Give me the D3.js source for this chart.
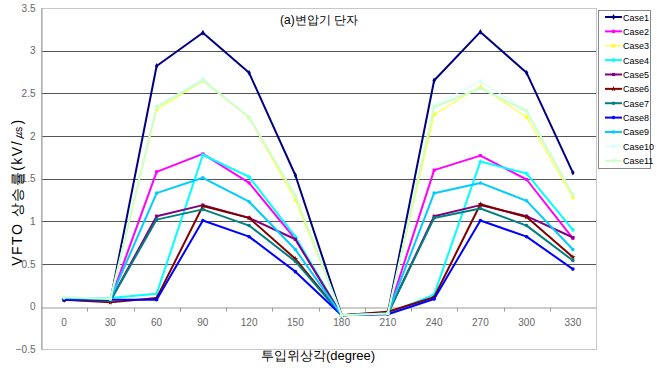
<!DOCTYPE html>
<html>
<head>
<meta charset="utf-8">
<script src="https://cdn.jsdelivr.net/npm/d3@7"></script>
<style>
  html, body { margin: 0; padding: 0; background: #fff; }
  svg { display: block; }
  text { font-family: "Liberation Sans", Arial, sans-serif; }
</style>
</head>
<body>
<svg id="chart" width="657" height="372"></svg>
<script>
// Switching phase angle (degrees) on the category axis
const categories = ["0", "30", "60", "90", "120", "150", "180", "210", "240", "270", "300", "330"];

// VFTO rise rate (kV/µs) per case
const case1  = [0.08, 0.07, 2.82, 3.21, 2.74, 1.54, -0.10, -0.07, 2.65, 3.22, 2.74, 1.57];
const case2  = [0.09, 0.08, 1.58, 1.79, 1.45, 0.79, -0.10, -0.08, 1.60, 1.77, 1.49, 0.80];
const case3  = [0.10, 0.08, 2.31, 2.64, 2.21, 1.25, -0.10, -0.08, 2.25, 2.58, 2.22, 1.28];
const case4  = [0.10, 0.10, 0.15, 1.78, 1.52, 0.82, -0.10, -0.08, 0.14, 1.70, 1.56, 0.90];
const case5  = [0.08, 0.07, 1.06, 1.19, 1.04, 0.79, -0.10, -0.08, 1.06, 1.19, 1.06, 0.81];
const case6  = [0.08, 0.05, 0.10, 1.18, 1.04, 0.56, -0.10, -0.06, 0.11, 1.20, 1.05, 0.58];
const case7  = [0.09, 0.07, 1.02, 1.14, 0.95, 0.53, -0.10, -0.08, 1.04, 1.15, 0.95, 0.54];
const case8  = [0.08, 0.08, 0.08, 1.01, 0.82, 0.41, -0.10, -0.09, 0.09, 1.01, 0.82, 0.44];
const case9  = [0.10, 0.09, 1.33, 1.51, 1.23, 0.67, -0.10, -0.08, 1.33, 1.45, 1.24, 0.67];
const case10 = [0.11, 0.10, 2.35, 2.67, 2.22, 1.30, -0.10, -0.08, 2.36, 2.64, 2.30, 1.32];
const case11 = [0.11, 0.09, 2.34, 2.65, 2.22, 1.30, -0.10, -0.08, 2.34, 2.56, 2.29, 1.31];

const seriesNames = ["Case1", "Case2", "Case3", "Case4", "Case5", "Case6", "Case7", "Case8", "Case9", "Case10", "Case11"];
const seriesValues = [case1, case2, case3, case4, case5, case6, case7, case8, case9, case10, case11];
const seriesColors = ["#000080", "#ff00ff", "#ffff00", "#00ffff", "#800080", "#800000", "#008080", "#0000ff", "#00ccff", "#ccffff", "#ccffcc"];
const seriesWidths = [2, 2, 1, 2, 2, 2, 2, 2, 2, 1, 2];
const seriesSymbols = [d3.symbolDiamond, d3.symbolSquare, d3.symbolTriangle, d3.symbolCross, d3.symbolSquare,
                       d3.symbolStar, d3.symbolCircle, d3.symbolCircle, d3.symbolCircle, d3.symbolCross, d3.symbolSquare];

const yTicks = [-0.5, 0, 0.5, 1, 1.5, 2, 2.5, 3, 3.5];

const svg = d3.select("#chart");
const plot = { left: 41, right: 596, top: 8, bottom: 349.3 };

const x = d3.scaleBand().domain(categories).range([plot.left, plot.right]).padding(0);
const y = d3.scaleLinear().domain([-0.5, 3.5]).range([plot.bottom, plot.top]);

// Horizontal gridlines
svg.append("g")
  .selectAll("line")
  .data(yTicks.filter(t => t > -0.5 && t < 3.5 && t !== 0))
  .join("line")
  .attr("x1", plot.left).attr("x2", plot.right)
  .attr("y1", d => Math.round(y(d)) + 0.5).attr("y2", d => Math.round(y(d)) + 0.5)
  .attr("stroke", "#555").attr("stroke-width", 1);

// Plot area frame
svg.append("rect")
  .attr("x", plot.left + 0.5).attr("y", Math.round(plot.top) + 0.5)
  .attr("width", plot.right - plot.left).attr("height", Math.round(plot.bottom) - Math.round(plot.top))
  .attr("fill", "none").attr("stroke", "#c8c8c8");

// Y axis
const yAxis = svg.append("g")
  .attr("transform", `translate(${plot.left + 0.5},0)`)
  .call(d3.axisLeft(y).tickValues(yTicks).tickSize(0).tickPadding(6)
    .tickFormat(d => d3.format("")(d)));
yAxis.select(".domain").attr("stroke", "#999");
yAxis.selectAll("text").attr("fill", "#666").style("font-size", "10px");

// X axis along zero
const xAxis = svg.append("g")
  .attr("transform", `translate(0,${Math.round(y(0)) + 0.5})`)
  .call(d3.axisBottom(x).tickSize(0).tickPadding(11));
xAxis.select(".domain").attr("stroke", "#999");
xAxis.selectAll("text").attr("fill", "#666").style("font-size", "10px");
xAxis.selectAll(".bound")
  .data(categories.slice(1))
  .join("line")
  .attr("class", "bound")
  .attr("x1", d => Math.round(x(d)) + 0.5).attr("x2", d => Math.round(x(d)) + 0.5)
  .attr("y1", 0).attr("y2", 4)
  .attr("stroke", "#999");

// Series lines
const line = d3.line()
  .x((d, i) => x(categories[i]) + x.bandwidth() / 2)
  .y(d => y(d));

const seriesG = svg.append("g");
seriesValues.forEach((vals, k) => {
  const g = seriesG.append("g");
  g.append("path")
    .datum(vals)
    .attr("d", line)
    .attr("fill", "none")
    .attr("stroke", seriesColors[k])
    .attr("stroke-width", seriesWidths[k])
    .attr("stroke-linejoin", "round");
  g.selectAll("path.mk")
    .data(vals)
    .join("path")
    .attr("class", "mk")
    .attr("transform", (d, i) => `translate(${x(categories[i]) + x.bandwidth() / 2},${y(d)})`)
    .attr("d", d3.symbol(seriesSymbols[k], 10))
    .attr("fill", seriesColors[k]);
});

// Title
svg.append("text")
  .attr("x", 319).attr("y", 24)
  .attr("text-anchor", "middle")
  .style("font-size", "12px")
  .attr("fill", "#000")
  .text("(a)변압기 단자");

// Y axis title
svg.append("text")
  .attr("transform", "translate(22,192) rotate(-90)")
  .attr("text-anchor", "middle")
  .style("font-size", "14px")
  .style("letter-spacing", "1.5px")
  .attr("fill", "#000")
  .text("VFTO 상승률(kV/㎲)");

// X axis title
svg.append("text")
  .attr("x", 318).attr("y", 360)
  .attr("text-anchor", "middle")
  .style("font-size", "13px")
  .attr("fill", "#000")
  .text("투입위상각(degree)");

// Legend
const legend = svg.append("g");
legend.append("rect")
  .attr("x", 598.5).attr("y", 10.5)
  .attr("width", 52).attr("height", 158)
  .attr("fill", "#fff").attr("stroke", "#888");
const items = legend.selectAll("g.item")
  .data(seriesNames)
  .join("g")
  .attr("class", "item")
  .attr("transform", (d, i) => `translate(0,${17 + i * 14.37})`);
items.append("line")
  .attr("x1", 605).attr("x2", 622)
  .attr("y1", 0).attr("y2", 0)
  .attr("stroke", (d, i) => seriesColors[i])
  .attr("stroke-width", (d, i) => seriesWidths[i]);
items.append("path")
  .attr("transform", "translate(613.5,0)")
  .attr("d", (d, i) => d3.symbol(seriesSymbols[i], 10)())
  .attr("fill", (d, i) => seriesColors[i]);
items.append("text")
  .attr("x", 623).attr("y", 3.5)
  .style("font-size", "9px")
  .attr("fill", "#000")
  .text(d => d);
</script>
</body>
</html>
